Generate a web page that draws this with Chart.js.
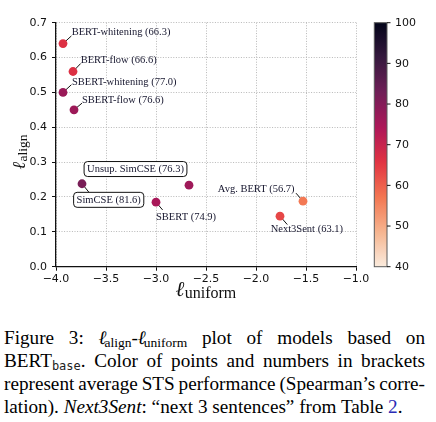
<!DOCTYPE html>
<html>
<head>
<meta charset="utf-8">
<script src="https://cdn.jsdelivr.net/npm/chart.js@4.4.1/dist/chart.umd.min.js"></script>
<style>
  html, body { margin:0; padding:0; background:#fff; }
  body { width:436px; height:422px; position:relative; overflow:hidden; }
  #wrap { position:absolute; left:0; top:0; width:436px; height:300px; }
  #cap { position:absolute; left:4px; top:326px; width:421px; font-family:'Liberation Serif','Times New Roman',serif; font-size:19.2px; line-height:23px; color:#000; }
  #cap .j { text-align:justify; text-align-last:justify; }
  #cap sub { font-size:13.5px; line-height:0; vertical-align:-3px; }
  #cap sub.mono { font-family:'DejaVu Sans Mono','Liberation Mono',monospace; font-size:12px; color:#222; }
  #cap .ell { font-family:'DejaVu Serif',serif; font-style:italic; font-size:19px; display:inline-block; margin-right:-2px; }
</style>
</head>
<body>
<div id="wrap"><canvas id="c" width="436" height="300"></canvas></div>
<div id="cap">
  <div class="j">Figure 3: <span><span class="ell">ℓ</span><sub>align</sub>-<span class="ell">ℓ</span><sub>uniform</sub></span> plot of models based on</div>
  <div class="j">BERT<sub class="mono">base</sub>. Color of points and numbers in brackets</div>
  <div class="j" style="word-spacing:-2px;">represent average STS performance (Spearman’s corre-</div>
  <div>lation). <i>Next3Sent</i>: “next 3 sentences” from Table <span style="color:#2b2bb5">2</span>.</div>
</div>
<script>
// ---- data ----
const models = ['BERT-whitening','BERT-flow','SBERT-whitening','SBERT-flow','Unsup. SimCSE','SimCSE','SBERT','Avg. BERT','Next3Sent'];
const uniformValues = [-3.93, -3.83, -3.93, -3.82, -2.67, -3.74, -3.00, -1.53, -1.76];
const alignValues   = [0.64, 0.56, 0.50, 0.45, 0.234, 0.238, 0.185, 0.188, 0.145];
const stsScores     = [66.3, 66.6, 77.0, 76.6, 76.3, 81.6, 74.9, 56.7, 63.1];
const xTicks  = [-4.0, -3.5, -3.0, -2.5, -2.0, -1.5, -1.0];
const yTicks  = [0.0, 0.1, 0.2, 0.3, 0.4, 0.5, 0.6, 0.7];
const cbTicks = [40, 50, 60, 70, 80, 90, 100];

// ---- colormap (rocket reversed) ----
const rocketStops = [[0,'#03051a'],[1/7,'#35193e'],[2/7,'#701f57'],[3/7,'#ad1759'],[4/7,'#e13342'],[5/7,'#f37651'],[6/7,'#f6b48f'],[1,'#faebdd']];
function hex2rgb(h){ return [parseInt(h.substr(1,2),16),parseInt(h.substr(3,2),16),parseInt(h.substr(5,2),16)]; }
function rocketR(v){
  let t = (v - 40) / 60; t = Math.max(0, Math.min(1, t));
  const p = 1 - t;
  for (let i = 0; i < rocketStops.length - 1; i++) {
    const [p0,c0] = rocketStops[i], [p1,c1] = rocketStops[i+1];
    if (p >= p0 && p <= p1) {
      const f = (p - p0) / (p1 - p0), a = hex2rgb(c0), b = hex2rgb(c1);
      return 'rgb(' + a.map((x,k)=>Math.round(x + (b[k]-x)*f)).join(',') + ')';
    }
  }
  return rocketStops[rocketStops.length-1][1];
}

const fmtNum = v => (Math.round(v*10)/10).toFixed(1).replace('-', '\u2212');

const labelStyle = [
  {tx: 8.7, ty:-11.4, align:'left',   lx: 8.4, ly:-7.7},
  {tx: 7.7, ty:-11.0, align:'left',   lx: 7.7, ly:-8.0},
  {tx: 9.0, ty:-10.0, align:'left',   lx: 8.4, ly:-7.7},
  {tx: 8.0, ty: -9.3, align:'left',   lx: 8.0, ly:-6.7},
  {tx:-53.5,ty:-15.6, align:'center', box:true},
  {tx: 26.7,ty: 16.6, align:'center', box:true, lx: 7.0, ly: 8.6},
  {tx: 0.0, ty: 15.4, align:'left',   lx: 6.6, ly: 7.7},
  {tx:-8.4, ty:-12.3, align:'right',  lx:-7.0, ly:-8.0},
  {tx:-9.3, ty: 12.7, align:'left',   lx: 7.3, ly: 8.4}
];

const annotPlugin = {
  id:'annot',
  beforeDatasetsDraw(chart){
    const ctx = chart.ctx, meta = chart.getDatasetMeta(0);
    ctx.save();
    ctx.strokeStyle = '#111'; ctx.lineWidth = 1;
    meta.data.forEach((pt,i)=>{
      const s = labelStyle[i]; if (s.lx === undefined) return;
      ctx.beginPath(); ctx.moveTo(pt.x, pt.y); ctx.lineTo(pt.x + s.lx, pt.y + s.ly); ctx.stroke();
    });
    ctx.restore();
  },
  afterDatasetsDraw(chart){
    const ctx = chart.ctx, meta = chart.getDatasetMeta(0);
    ctx.save();
    ctx.font = '10.5px "Liberation Serif", "Times New Roman", serif';
    ctx.textBaseline = 'middle';
    meta.data.forEach((pt,i)=>{
      const s = labelStyle[i];
      const txt = models[i] + ' (' + stsScores[i].toFixed(1) + ')';
      const x = pt.x + s.tx, y = pt.y + s.ty;
      const w = ctx.measureText(txt).width;
      if (s.box) {
        const bw = w + 6, bh = 15, bx = x - bw/2, by = y - bh/2 - 0.5;
        ctx.beginPath();
        ctx.roundRect(bx, by, bw, bh, 3.5);
        ctx.fillStyle = '#fff'; ctx.fill();
        ctx.strokeStyle = '#111'; ctx.lineWidth = 1; ctx.stroke();
      }
      ctx.fillStyle = '#16162e';
      ctx.textAlign = s.align;
      ctx.fillText(txt, x, y);
    });
    ctx.restore();
  },
  afterDraw(chart){
    const ctx = chart.ctx, ca = chart.chartArea, cb = chart.scales.cb;
    // colorbar
    const x0 = ca.right + 18.3, x1 = ca.right + 31;
    const top = cb.getPixelForValue(100), bot = cb.getPixelForValue(40);
    const g = ctx.createLinearGradient(0, bot, 0, top);
    for (let k = 0; k <= 60; k++) g.addColorStop(k/60, rocketR(40 + k));
    ctx.save();
    ctx.fillStyle = g;
    ctx.fillRect(x0, top, x1 - x0, bot - top);
    ctx.strokeStyle = '#5a5a5a'; ctx.lineWidth = 1;
    ctx.strokeRect(x0, top, x1 - x0, bot - top);
    ctx.strokeStyle = '#111';
    ctx.font = '11px "DejaVu Sans", sans-serif';
    ctx.fillStyle = '#111'; ctx.textAlign = 'left'; ctx.textBaseline = 'middle';
    cbTicks.forEach(v=>{
      const y = cb.getPixelForValue(v);
      ctx.beginPath(); ctx.moveTo(x1, y); ctx.lineTo(x1 + 3.5, y); ctx.stroke();
      ctx.fillText(String(v), x1 + 8, y + 0.5);
    });
    // axis titles
    ctx.textBaseline = 'alphabetic';
    const bigX = 'italic 21px "DejaVu Serif", serif';
    ctx.font = bigX;
    ctx.fillText('\u2113', 175.5, 296);
    const lwx = ctx.measureText('\u2113').width;
    ctx.font = '16px "Liberation Serif", "DejaVu Serif", serif';
    ctx.fillText('uniform', 175.5 + lwx + 0.5, 298);
    ctx.translate(25, 169.5); ctx.rotate(-Math.PI/2);
    ctx.font = 'italic 18px "DejaVu Serif", serif';
    ctx.fillText('\u2113', 0, 0);
    const lw = ctx.measureText('\u2113').width;
    ctx.font = '13.5px "Liberation Serif", "DejaVu Serif", serif';
    ctx.fillText('align', lw + 0.5, 1.5);
    ctx.restore();
  }
};

const tickFont = {family:'DejaVu Sans', size:11};
new Chart(document.getElementById('c'), {
  type:'scatter',
  data:{ datasets:[{
    data: models.map((m,i)=>({x:uniformValues[i], y:alignValues[i]})),
    backgroundColor: stsScores.map(rocketR),
    pointRadius: 4.4, pointBorderWidth: 0, borderWidth: 0
  }]},
  options:{
    responsive:false, animation:false, devicePixelRatio:1,
    layout:{padding:{top:22.7, right:80, left:0, bottom:0}},
    plugins:{legend:{display:false}, tooltip:{enabled:false}},
    scales:{
      x:{ type:'linear', min:-4, max:-1,
          afterFit(s){ s.height = 33.3; },
          afterBuildTicks(s){ s.ticks = xTicks.map(v=>({value:v})); },
          ticks:{ callback:v=>fmtNum(v), font:tickFont, color:'#111', padding:2, maxRotation:0 },
          grid:{ color:'#b8b8b8', lineWidth:1, tickLength:4, tickColor:'#111', tickWidth:1 },
          border:{ color:'#111', width:1.3, dash:[1,1.6] } },
      y:{ type:'linear', min:0, max:0.7,
          afterFit(s){ s.width = 56; },
          afterBuildTicks(s){ s.ticks = yTicks.map(v=>({value:v})); },
          ticks:{ callback:v=>fmtNum(v), font:tickFont, color:'#111', padding:5 },
          grid:{ color:'#b8b8b8', lineWidth:1, tickLength:4, tickColor:'#111', tickWidth:1 },
          border:{ color:'#111', width:1.3, dash:[1,1.6] } },
      cb:{ type:'linear', position:'right', display:false, min:40, max:100 }
    }
  },
  plugins:[annotPlugin]
});
</script>
</body>
</html>
